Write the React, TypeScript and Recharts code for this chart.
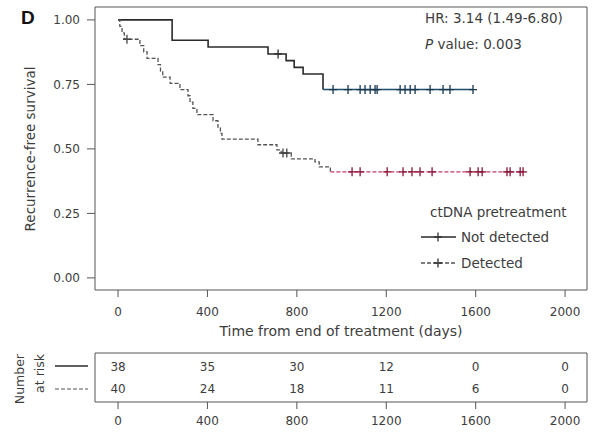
import React from "react";
import { ComposedChart, Line, Scatter, XAxis, YAxis, ReferenceArea, LabelList } from "recharts";

const FONT = "'DejaVu Sans', 'Liberation Sans', Arial, sans-serif";
const INK = "#3d3d3d";
const AXIS = "#555";

const xTicks = [0, 400, 800, 1200, 1600, 2000];
const yTicks = [0, 0.25, 0.5, 0.75, 1];
const xDomain: [number, number] = [-103, 2098];
const yDomain: [number, number] = [-0.047, 1.05];

// ctDNA not detected: event times (days) and survival after each step
const notDetectedTimes = [0, 242, 403, 671, 752, 788, 828, 917];
const notDetectedSurv = [1.0, 0.921, 0.895, 0.868, 0.842, 0.816, 0.79, 0.73];
const notDetectedCensor = [716, 962, 1029, 1083, 1105, 1128, 1150, 1159, 1262, 1284, 1307, 1329, 1396, 1454, 1485, 1588];

// ctDNA detected
const detectedTimes = [0, 8, 18, 28, 98, 115, 130, 179, 190, 200, 233, 277, 313, 322, 335, 353, 425, 447, 458, 465, 626, 711, 730, 775, 881, 900, 950];
const detectedSurv = [1.0, 0.975, 0.95, 0.925, 0.9, 0.876, 0.851, 0.827, 0.802, 0.778, 0.754, 0.73, 0.706, 0.681, 0.657, 0.633, 0.609, 0.584, 0.56, 0.538, 0.516, 0.496, 0.484, 0.461, 0.45, 0.43, 0.411];
const detectedCensor = [40, 738, 755, 1047, 1083, 1204, 1275, 1315, 1351, 1405, 1575, 1611, 1629, 1740, 1754, 1799, 1812];

// number at risk table
const riskTimes = [0, 400, 800, 1200, 1600, 2000];
const riskNotDetected = [38, 35, 30, 12, 0, 0];
const riskDetected = [40, 24, 18, 11, 6, 0];

const legendTitle = "ctDNA pretreatment";
const legendLabels = ["Not detected", "Detected"];

type Pt = { t: number; s: number };

const survAt = (times: number[], surv: number[], t: number) => {
  let s = surv[0];
  times.forEach((u, i) => {
    if (u <= t) s = surv[i];
  });
  return s;
};

function buildCurve(times: number[], surv: number[], censor: number[]) {
  const last = times.length - 1;
  const start = times[last];
  const end = Math.max(...censor);
  const marks: Pt[] = censor.map((t) => ({ t, s: survAt(times, surv, t) }));
  return {
    steps: times.map((t, i) => ({ t, s: surv[i] })),
    tail: [
      { t: start, s: surv[last] },
      { t: end, s: surv[last] },
    ],
    early: marks.filter((m) => m.t < start),
    late: marks.filter((m) => m.t >= start),
  };
}

const nd = buildCurve(notDetectedTimes, notDetectedSurv, notDetectedCensor);
const det = buildCurve(detectedTimes, detectedSurv, detectedCensor);

const riskData = riskTimes.flatMap((t, i) => [
  { t, row: 2, n: riskNotDetected[i] },
  { t, row: 1, n: riskDetected[i] },
]);

const plusShape = (color: string) => (props: any) => {
  const { cx, cy } = props;
  if (cx == null || cy == null) return <g />;
  return (
    <path
      d={`M${cx - 4},${cy}H${cx + 4}M${cx},${cy - 4.5}V${cy + 4.5}`}
      stroke={color}
      strokeWidth={1.3}
      fill="none"
    />
  );
};

const XTick = (props: any) => {
  const { x, y, payload } = props;
  return (
    <text x={x} y={y} dy="0.71em" textAnchor="middle" fontSize={12} fill={INK} fontFamily={FONT}>
      {payload.value}
    </text>
  );
};

const YTick = (props: any) => {
  const { x, y, payload } = props;
  return (
    <text x={x} y={y} dy="0.355em" textAnchor="end" fontSize={12} fill={INK} fontFamily={FONT}>
      {Number(payload.value).toFixed(2)}
    </text>
  );
};

const textStyle = { fontFamily: FONT, fill: INK };

export default function App() {
  return (
    <div style={{ position: "absolute", left: 0, top: 0, width: 595, height: 434, background: "#fff" }}>
      <div style={{ position: "absolute", left: 0, top: 0 }}>
        <ComposedChart width={595} height={320} margin={{ top: 7, right: 8, left: 0, bottom: 0 }}>
          <XAxis
            type="number"
            dataKey="t"
            domain={xDomain}
            ticks={xTicks}
            interval={0}
            allowDataOverflow
            axisLine={false}
            tickLine={{ stroke: AXIS }}
            tickSize={7}
            tickMargin={10}
            height={30}
            tick={<XTick />}
          />
          <YAxis
            type="number"
            dataKey="s"
            domain={yDomain}
            ticks={yTicks}
            interval={0}
            allowDataOverflow
            axisLine={false}
            tickLine={{ stroke: AXIS }}
            tickSize={8}
            tickMargin={7}
            width={95}
            tick={<YTick />}
          />
          <ReferenceArea
            x1={xDomain[0]}
            x2={xDomain[1]}
            y1={yDomain[0]}
            y2={yDomain[1]}
            fill="none"
            stroke={AXIS}
            strokeWidth={1}
            ifOverflow="visible"
          />
          <Line data={nd.steps} dataKey="s" type="stepAfter" stroke="#2b2b2b" strokeWidth={1.6} dot={false} isAnimationActive={false} />
          <Line data={nd.tail} dataKey="s" type="stepAfter" stroke="#1e4d6b" strokeWidth={1.6} dot={false} isAnimationActive={false} />
          <Scatter data={nd.early} dataKey="s" shape={plusShape("#2b2b2b")} isAnimationActive={false} />
          <Scatter data={nd.late} dataKey="s" shape={plusShape("#17374f")} isAnimationActive={false} />

          <Line data={det.steps} dataKey="s" type="stepAfter" stroke="#555" strokeWidth={1.3} strokeDasharray="4 2" dot={false} isAnimationActive={false} />
          <Line data={det.tail} dataKey="s" type="stepAfter" stroke="#c4386a" strokeWidth={1.4} strokeDasharray="4 2" dot={false} isAnimationActive={false} />
          <Scatter data={det.early} dataKey="s" shape={plusShape("#444")} isAnimationActive={false} />
          <Scatter data={det.late} dataKey="s" shape={plusShape("#8a1538")} isAnimationActive={false} />
        </ComposedChart>
      </div>

      <div style={{ position: "absolute", left: 0, top: 346 }}>
        <ComposedChart width={595} height={88} margin={{ top: 7, right: 8, left: 95, bottom: 0 }}>
          <XAxis
            type="number"
            dataKey="t"
            domain={xDomain}
            ticks={xTicks}
            interval={0}
            allowDataOverflow
            axisLine={false}
            tickLine={{ stroke: AXIS }}
            tickSize={7}
            tickMargin={7}
            height={32}
            tick={<XTick />}
          />
          <YAxis type="number" dataKey="row" domain={[0.41, 2.64]} allowDataOverflow hide />
          <ReferenceArea
            x1={xDomain[0]}
            x2={xDomain[1]}
            y1={0.41}
            y2={2.64}
            fill="none"
            stroke={AXIS}
            strokeWidth={1}
            ifOverflow="visible"
          />
          <Scatter data={riskData} dataKey="row" shape={() => <g />} isAnimationActive={false}>
            <LabelList dataKey="n" position="center" fontSize={12} fill={INK} fontFamily={FONT} />
          </Scatter>
        </ComposedChart>
      </div>

      <svg width={595} height={434} style={{ position: "absolute", left: 0, top: 0, pointerEvents: "none" }}>
        <text x={21} y={24} fontSize={19} fontWeight="bold" fontFamily="'Liberation Sans', Arial, sans-serif" fill="#111">
          D
        </text>
        <text x={425} y={23} fontSize={13.5} {...textStyle}>
          HR: 3.14 (1.49-6.80)
        </text>
        <text x={425} y={49} fontSize={13.5} {...textStyle}>
          <tspan fontStyle="italic">P</tspan> value: 0.003
        </text>
        <text
          x={30}
          y={149}
          fontSize={13.5}
          textAnchor="middle"
          dominantBaseline="central"
          transform="rotate(-90 30 149)"
          {...textStyle}
        >
          Recurrence-free survival
        </text>
        <text x={341} y={331} fontSize={14} textAnchor="middle" dominantBaseline="central" {...textStyle}>
          Time from end of treatment (days)
        </text>

        <text x={430} y={212} fontSize={13.5} dominantBaseline="central" {...textStyle}>
          {legendTitle}
        </text>
        {legendLabels.map((label, i) => {
          const y = 237 + i * 26;
          const dashed = i === 1;
          return (
            <g key={label}>
              <line
                x1={421}
                x2={456}
                y1={y}
                y2={y}
                stroke={dashed ? "#555" : "#2b2b2b"}
                strokeWidth={dashed ? 1.3 : 1.6}
                strokeDasharray={dashed ? "4 2" : undefined}
              />
              <path d={`M${434},${y}H${442}M${438},${y - 4.5}V${y + 4.5}`} stroke="#333" strokeWidth={1.3} />
              <text x={461} y={y} fontSize={13.5} dominantBaseline="central" {...textStyle}>
                {label}
              </text>
            </g>
          );
        })}

        <text x={19} y={354} fontSize={12.5} textAnchor="end" dominantBaseline="central" transform="rotate(-90 19 354)" {...textStyle}>
          Number
        </text>
        <text x={39} y={354} fontSize={12.5} textAnchor="end" dominantBaseline="central" transform="rotate(-90 39 354)" {...textStyle}>
          at risk
        </text>
        <line x1={55} x2={88} y1={366} y2={366} stroke="#2b2b2b" strokeWidth={1.4} />
        <line x1={55} x2={88} y1={389} y2={389} stroke="#555" strokeWidth={1.2} strokeDasharray="4 2" />
      </svg>
    </div>
  );
}
